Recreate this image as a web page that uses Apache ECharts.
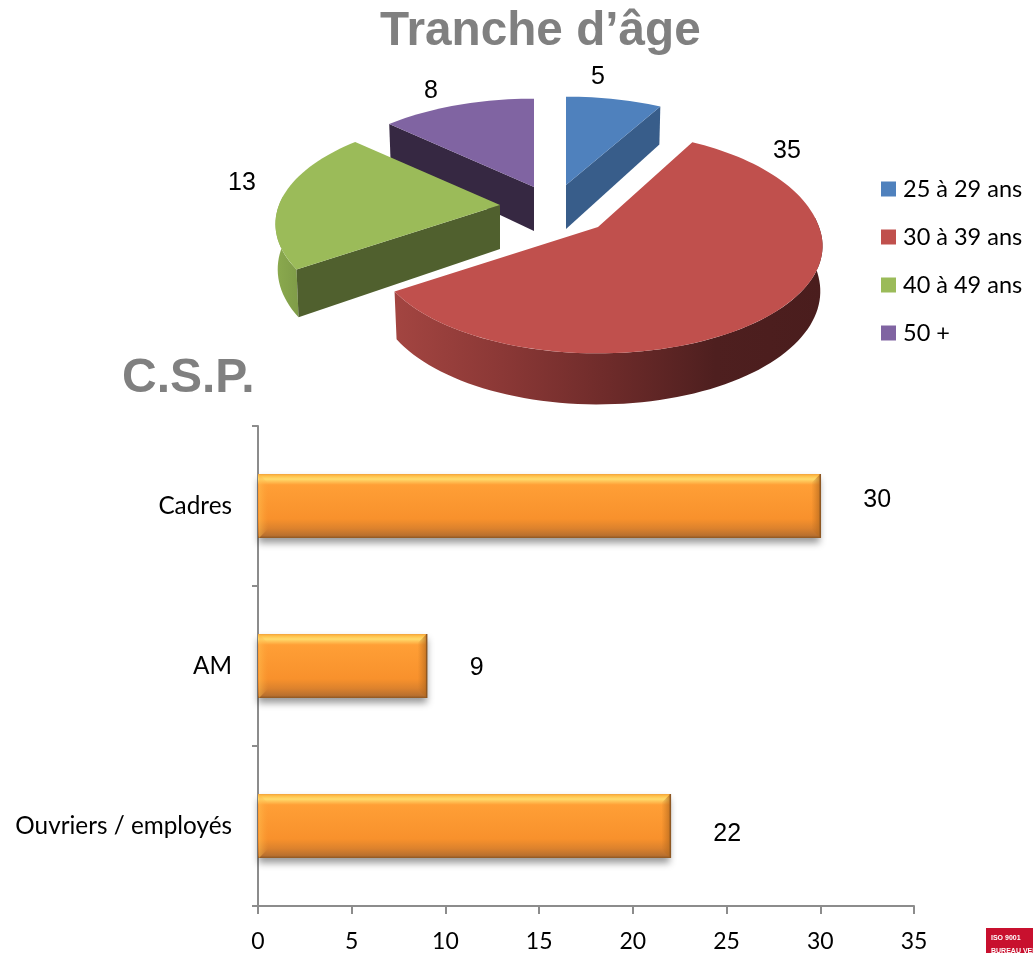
<!DOCTYPE html>
<html>
<head>
<meta charset="utf-8">
<style>html,body{margin:0;padding:0;background:#fff}#c{width:1033px;height:953px}</style>
<script src="https://cdn.jsdelivr.net/npm/echarts@6/dist/echarts.min.js"></script>
</head>
<body>
<div id="c"></div>
<script>
const ageCategories = ["25 à 29 ans", "30 à 39 ans", "40 à 49 ans", "50 +"];
const ageValues = [5, 35, 13, 8];
const cspCategories = ["Ouvriers / employés", "AM", "Cadres"];
const cspValues = [22, 9, 30];
const xMax = 35, xStep = 5;

// Appearance of the projected pie
const ageColors = ["#4F81BD", "#C0504D", "#9BBB59", "#8064A2"];
const faceColors = ["#385D8A", null, "#50602E", "#362842"];
const explode = [[566, 185], [598, 227], [500, 205], [534, 187]];
const backStretch = [1, 1.08, 1, 1];
const labelAt = [[598, 77], [787, 151], [242, 183], [431, 91]];
const drawZ = [3, 5, 4, 2];
const rimStops = [
  null,
  [[0, "#A34541"], [0.25, "#8B3836"], [0.5, "#6E2B2A"], [0.75, "#4E1F1F"], [1, "#4A1D1D"]],
  [[0, "#8BAA4E"], [1, "#7F9C48"]],
  null
];
const RX = 221, RY = 104, PERSP = 0.177, DEPTH = 44;
const FONT_UI = "Lato, 'Open Sans', sans-serif";
const FONT_NUM = "'Liberation Sans', Arial, sans-serif";
const BAR_H = 64, BEVEL = 9;

const total = ageValues.reduce((a, b) => a + b, 0);
function project(c, deg, bottom, idx) {
  const t = deg * Math.PI / 180, u = Math.sin(t), v = -Math.cos(t);
  const p = 1 / (1 - PERSP * v);
  let x = RX * u * p, y = RY * v * p;
  if (v < 0) y *= backStretch[idx];
  if (bottom) { x *= 0.99; y += DEPTH * (1 + 0.16 * v); }
  return [c[0] + x, c[1] + y];
}
function arc(c, a, b, bottom, idx) {
  const pts = [], n = Math.max(4, Math.ceil(Math.abs(b - a) / 2));
  for (let i = 0; i <= n; i++) pts.push(project(c, a + (b - a) * i / n, bottom, idx));
  return pts;
}
function sliceItem(idx) {
  return function (params, api) {
    const val = api.value(0);
    let before = 0;
    for (let i = 0; i < idx; i++) before += ageValues[i];
    const a0 = before / total * 360, a1 = (before + val) / total * 360;
    const c = explode[idx], kids = [];
    const cBot = [c[0], c[1] + DEPTH];
    if (rimStops[idx]) {
      const from = Math.max(a0, 85), to = Math.min(a1, 275);
      const pts = arc(c, from, to, false, idx).concat(arc(c, from, to, true, idx).reverse());
      kids.push({ type: "polygon", shape: { points: pts }, style: {
        fill: { type: "linear", x: 0, y: 0, x2: 1, y2: 0,
          colorStops: rimStops[idx].map(s => ({ offset: s[0], color: s[1] })) } } });
    }
    if (faceColors[idx]) {
      const edge = idx === 0 ? a1 : a0;
      kids.push({ type: "polygon", shape: { points: [c, project(c, edge, false, idx), project(c, edge, true, idx), cBot] },
        style: { fill: faceColors[idx] } });
    }
    kids.push({ type: "polygon", shape: { points: [c].concat(arc(c, a0, a1, false, idx)) }, style: { fill: ageColors[idx] } });
    kids.push({ type: "text", style: { text: String(val), x: labelAt[idx][0], y: labelAt[idx][1],
      fill: "#000", font: "25px " + FONT_NUM, textAlign: "center", verticalAlign: "middle" } });
    return { type: "group", children: kids };
  };
}
function bevelItem(params, api) {
  const cat = api.value(0), val = api.value(1);
  const p0 = api.coord([0, cat]), p1 = api.coord([val, cat]);
  const x0 = p0[0] + 1, x1 = p1[0], t = p0[1] - BAR_H / 2, b = p0[1] + BAR_H / 2, e = BEVEL;
  return { type: "group", children: [
    { type: "polygon", shape: { points: [[x0, t], [x0 + e, t + e], [x0 + e, b - e], [x0, b]] },
      style: { fill: { type: "linear", x: 0, y: 0, x2: 1, y2: 0, colorStops: [
        { offset: 0, color: "rgba(255,190,80,0.55)" }, { offset: 1, color: "rgba(255,170,60,0)" } ] } } },
    { type: "polygon", shape: { points: [[x1, t], [x1 - e, t + e], [x1 - e, b - e], [x1, b]] },
      style: { fill: { type: "linear", x: 0, y: 0, x2: 1, y2: 0, colorStops: [
        { offset: 0, color: "rgba(190,110,30,0)" }, { offset: 1, color: "rgba(180,105,30,0.75)" } ] } } },
    { type: "line", shape: { x1: x1, y1: t, x2: x1, y2: b }, style: { stroke: "#8E5722", lineWidth: 1.5 } }
  ] };
}

const barLabelOffsets = [8, 2, -6];
const barFill = { type: "linear", x: 0, y: 0, x2: 0, y2: 1, colorStops: [
  { offset: 0, color: "#F2A23A" }, { offset: 0.03, color: "#FFC04A" }, { offset: 0.08, color: "#FFDB6C" },
  { offset: 0.17, color: "#FF9F36" }, { offset: 0.7, color: "#F8912C" }, { offset: 0.85, color: "#DC822D" },
  { offset: 0.96, color: "#B9702F" }, { offset: 1, color: "#8E5722" } ] };

const chart = echarts.init(document.getElementById("c"), null, { renderer: "canvas" });
chart.setOption({
  animation: false,
  backgroundColor: "#fff",
  title: [
    { text: "Tranche d’âge", left: 375, top: 3,
      textStyle: { fontFamily: FONT_NUM, fontWeight: "bold", fontSize: 47.7, color: "#808080" } },
    { text: "C.S.P.", left: 117, top: 350,
      textStyle: { fontFamily: FONT_NUM, fontWeight: "bold", fontSize: 48, color: "#808080" } }
  ],
  legend: {
    orient: "vertical", left: 876, top: 172, itemWidth: 15, itemHeight: 15, itemGap: 24, icon: "rect",
    data: ageCategories, selectedMode: false,
    textStyle: { fontFamily: FONT_UI, fontSize: 23.5, color: "#000", padding: [0, 0, 0, 2] }
  },
  grid: { left: 258, right: 119, top: 426, bottom: 47 },
  xAxis: {
    type: "value", min: 0, max: xMax, interval: xStep, splitLine: { show: false },
    axisLine: { show: true, lineStyle: { color: "#8C8C8C", width: 2 } },
    axisTick: { show: true, length: 8, lineStyle: { color: "#8C8C8C", width: 2 } },
    axisLabel: { fontFamily: FONT_UI, fontSize: 23, color: "#000", margin: 24 }
  },
  yAxis: {
    type: "category", data: cspCategories,
    axisLine: { show: true, lineStyle: { color: "#8C8C8C", width: 2 } },
    axisTick: { show: true, length: 6, lineStyle: { color: "#8C8C8C", width: 2 } },
    axisLabel: { fontFamily: FONT_UI, fontSize: 24.3, color: "#000", margin: 26 }
  },
  series: [
    {
      type: "bar", name: "C.S.P.", barWidth: BAR_H, silent: true,
      data: cspValues.map((v, i) => ({ value: v, label: { offset: [0, barLabelOffsets[i]] } })),
      itemStyle: { color: barFill,
        shadowColor: "rgba(0,0,0,0.4)", shadowBlur: 7, shadowOffsetY: 5 },
      label: { show: true, position: "right", distance: 43, fontFamily: FONT_NUM, fontSize: 25, color: "#000" }
    },
    {
      type: "custom", name: "bevel", z: 3, silent: true,
      encode: { x: 1, y: 0 },
      data: cspValues.map((v, i) => [i, v]),
      renderItem: bevelItem
    }
  ].concat(ageCategories.map((name, i) => ({
    type: "custom", name, coordinateSystem: "none", z: drawZ[i], silent: true,
    itemStyle: { color: ageColors[i] },
    data: [[ageValues[i]]],
    renderItem: sliceItem(i)
  }))),
  graphic: [
    { type: "rect", left: 986, top: 928, shape: { width: 47, height: 25 }, style: { fill: "#C8102E" } },
    { type: "text", left: 991, top: 935, style: { text: "ISO 9001", fill: "#fff", font: "bold 7px " + FONT_NUM } },
    { type: "text", left: 991, top: 948, style: { text: "BUREAU VERITAS", fill: "#fff", font: "bold 7px " + FONT_NUM } }
  ]
});
</script>
</body>
</html>
